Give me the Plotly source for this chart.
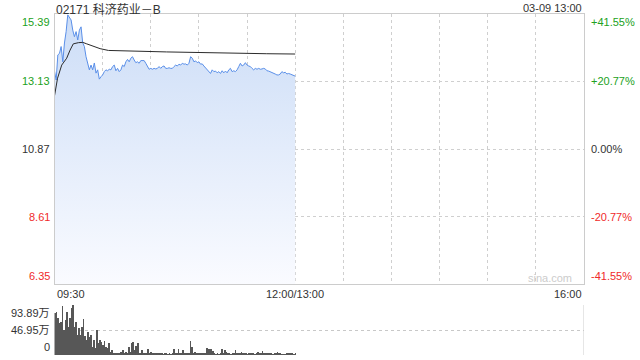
import numpy as np
import plotly.graph_objects as go

title_text = "02171 科济药业－B"
date_text = "03-09 13:00"
x_tick_labels = ["09:30", "12:00/13:00", "16:00"]
x_tick_minutes = [0, 150, 330]
price_ticks = [15.39, 13.13, 10.87, 8.61, 6.35]
pct_ticks = ["+41.55%", "+20.77%", "0.00%", "-20.77%", "-41.55%"]
vol_ticks = [93.89, 46.95, 0]
vol_tick_labels = ["93.89万", "46.95万", "0"]

prices = [
    13.48, 13.18, 14.02, 14.07, 14.30, 13.79, 14.42, 14.80, 15.36, 15.26,
    15.19, 14.85, 14.63, 14.80, 14.52, 14.85, 14.96, 14.42, 14.30, 13.96,
    13.68, 13.52, 13.68, 13.52, 13.75, 13.41, 13.52, 13.21, 13.29, 13.35,
    13.46, 13.52, 13.49, 13.54, 13.52, 13.63, 13.68, 13.49, 13.57, 13.46,
    13.52, 13.68, 13.63, 13.79, 13.87, 13.79, 13.91, 13.96, 13.85, 13.76,
    13.79, 13.74, 13.83, 13.82, 13.83, 13.74, 13.63, 13.54, 13.57, 13.54,
    13.57, 13.55, 13.57, 13.63, 13.57, 13.63, 13.65, 13.57, 13.57, 13.59,
    13.57, 13.57, 13.63, 13.68, 13.65, 13.71, 13.68, 13.74, 13.71, 13.72,
    13.68, 13.74, 13.96, 13.91, 13.79, 13.82, 13.76, 13.79, 13.71, 13.72,
    13.65, 13.59, 13.52, 13.49, 13.40, 13.52, 13.46, 13.48, 13.42, 13.46,
    13.40, 13.49, 13.42, 13.48, 13.42, 13.52, 13.57, 13.46, 13.49, 13.46,
    13.52, 13.63, 13.74, 13.65, 13.68, 13.76, 13.68, 13.65, 13.63, 13.57,
    13.52, 13.57, 13.54, 13.57, 13.54, 13.55, 13.57, 13.55, 13.49, 13.48,
    13.46, 13.42, 13.40, 13.38, 13.35, 13.35, 13.38, 13.46, 13.42, 13.44,
    13.38, 13.40, 13.38, 13.35, 13.34, 13.31,
]

avg_minutes = [0, 1.9, 4.5, 7.6, 9.7, 11.7, 14.9, 17.6, 20.1, 24.2, 28.4, 33.6, 49.2, 69.9, 90.7, 111.5, 132.3, 150]
avg_prices = [12.65, 13.24, 13.68, 13.91, 14.18, 14.39, 14.43, 14.44, 14.39, 14.30, 14.23, 14.17, 14.14, 14.12, 14.10, 14.07, 14.06, 14.05]

volumes = [
    78.3, 80.1, 68.9, 59.5, 62.6, 92.0, 47.0, 65.7, 81.4, 52.0,
    68.9, 88.9, 93.9, 53.2, 62.6, 37.6, 50.1, 37.6, 53.2, 67.0,
    35.7, 28.2, 43.8, 34.4, 37.6, 15.7, 28.2, 12.5, 47.0, 21.9,
    28.2, 25.0, 18.8, 26.3, 15.7, 12.5, 21.9, 6.3, 9.4, 3.1,
    4.4, 1.9, 1.9, 4.4, 6.3, 9.4, 4.4, 6.3, 3.1, 15.7,
    6.3, 21.9, 25.0, 9.4,
    16.9, 21.9, 4.4, 3.1, 9.4, 4.4, 1.9, 3.1, 11.3, 1.9,
    6.3, 4.4, 4.4, 3.1, 1.9, 1.9, 1.9, 1.9, 1.3, 1.9,
    1.9, 1.3, 1.9, 1.3, 3.1, 11.3, 3.1, 1.9, 11.3, 3.1,
    1.9, 9.4, 1.9, 1.9, 4.4, 4.4, 26.3, 15.7, 4.4, 6.3,
    3.1, 4.4, 1.9, 4.4, 3.1, 1.9, 4.4, 12.5, 10.6,
    11.3, 10.6, 7.5, 3.1, 1.3, 1.9, 1.3, 1.9, 11.3, 1.9,
    9.4, 5.0, 2.5, 1.9, 1.3, 2.5, 3.1, 9.4, 3.1, 2.5,
    3.8, 6.3, 3.1, 1.9, 3.1, 1.3, 3.8, 3.1, 3.8, 1.9,
    1.3, 2.5, 5.6, 2.5, 3.1, 7.5, 2.5, 3.8, 3.1, 3.8,
    2.5, 1.9, 1.3, 3.8, 2.5, 5.0, 2.5, 1.9, 1.3, 1.3,
    1.3, 1.9, 2.5, 3.8, 2.5, 1.9, 1.3, 2.5,
]

session_end = 150
day_end = 330

price_x = np.linspace(0, session_end, len(prices))
vol_x = np.linspace(0, session_end, len(volumes))

GREEN = "#21a121"
RED = "#f02a2a"
DARK = "#333333"
FONT = "Liberation Sans, Arial, Noto Sans CJK SC, sans-serif"

fig = go.Figure()

fig.add_trace(go.Scatter(
    x=price_x, y=prices, mode="lines",
    line=dict(color="#5a8fe8", width=1),
    fill="tozeroy",
    fillgradient=dict(type="vertical", start=price_ticks[-1], stop=price_ticks[0],
                      colorscale=[[0, "rgb(250,251,255)"], [1, "rgb(204,221,247)"]]),
    xaxis="x", yaxis="y", hoverinfo="skip",
))
fig.add_trace(go.Scatter(
    x=avg_minutes, y=avg_prices, mode="lines",
    line=dict(color="#2b2b2b", width=1),
    xaxis="x", yaxis="y", hoverinfo="skip",
))
fig.add_trace(go.Bar(
    x=vol_x, y=volumes, marker=dict(color="#555555", opacity=0.99, line=dict(width=0)),
    width=0.4, xaxis="x2", yaxis="y2", hoverinfo="skip",
))

xd = [54.5 / 640, 584 / 640]
fig.update_layout(
    width=640, height=360, autosize=False,
    margin=dict(l=0, r=0, t=0, b=0),
    paper_bgcolor="white", plot_bgcolor="white",
    showlegend=False,
    font=dict(family=FONT, size=11, color=DARK),
    xaxis=dict(domain=xd, range=[0, day_end], tickvals=list(range(0, day_end + 1, 30)),
               showticklabels=False, showgrid=True, griddash="dot", gridcolor="#cfcfcf",
               gridwidth=1, zeroline=False, showline=True, mirror=True, linecolor="#cccccc",
               anchor="y", ticks=""),
    yaxis=dict(domain=[1 - 284 / 360, 1 - 14 / 360], range=[price_ticks[-1], price_ticks[0]],
               tickvals=price_ticks, showticklabels=False, showgrid=True, griddash="dot",
               gridcolor="#cfcfcf", zeroline=False, showline=True, mirror=True,
               linecolor="#cccccc", anchor="x", ticks=""),
    xaxis2=dict(domain=xd, range=[0, day_end], showticklabels=False, showgrid=False,
                zeroline=False, showline=False, anchor="y2", ticks=""),
    yaxis2=dict(domain=[1 - 355 / 360, 1 - 305 / 360], range=[0, vol_ticks[0]],
                tickvals=vol_ticks, showticklabels=False, showgrid=True, griddash="dot",
                gridcolor="#c8c8c8", gridwidth=1, zeroline=False, showline=False,
                anchor="x2", ticks=""),
    bargap=0,
)

# right border of volume panel
fig.add_shape(type="line", xref="x2", yref="y2", x0=day_end, x1=day_end, y0=0, y1=vol_ticks[0],
              line=dict(color="#cccccc", width=1))

ann = []
colors = [GREEN, GREEN, DARK, RED, RED]
anchors = ["top", "middle", "middle", "middle", "bottom"]
for v, p, c, a in zip(price_ticks, pct_ticks, colors, anchors):
    ann.append(dict(x=52 / 640, xref="paper", xanchor="right", y=v, yref="y", yanchor=a,
                    text=f"{v:.2f}", showarrow=False, font=dict(color=c, size=11)))
    ann.append(dict(x=589 / 640, xref="paper", xanchor="left", y=v, yref="y", yanchor=a,
                    text=p, showarrow=False, font=dict(color=c, size=11)))

for v, t, a in zip(vol_ticks, vol_tick_labels, ["top", "middle", "bottom"]):
    ann.append(dict(x=52 / 640, xref="paper", xanchor="right", y=v, yref="y2", yanchor=a,
                    text=t, showarrow=False, font=dict(color=DARK, size=11)))

for m, t, xa in zip(x_tick_minutes, x_tick_labels, ["left", "center", "right"]):
    ann.append(dict(x=m, xref="x", xanchor=xa, y=1 - 286 / 360, yref="paper", yanchor="top",
                    text=t, showarrow=False, font=dict(color=DARK, size=11)))

ann.append(dict(x=54 / 640, xref="paper", xanchor="left", y=1.0, yref="paper", yanchor="top",
                text=title_text, showarrow=False, font=dict(color=DARK, size=12)))
ann.append(dict(x=584 / 640, xref="paper", xanchor="right", y=1.0, yref="paper", yanchor="top",
                text=date_text, showarrow=False, font=dict(color=DARK, size=11)))
ann.append(dict(x=574 / 640, xref="paper", xanchor="right", y=1 - 286 / 360, yref="paper",
                yanchor="bottom", text="sina.com", showarrow=False,
                font=dict(color="#cccccc", size=11)))

fig.update_layout(annotations=ann)
fig.write_html("out.html")
